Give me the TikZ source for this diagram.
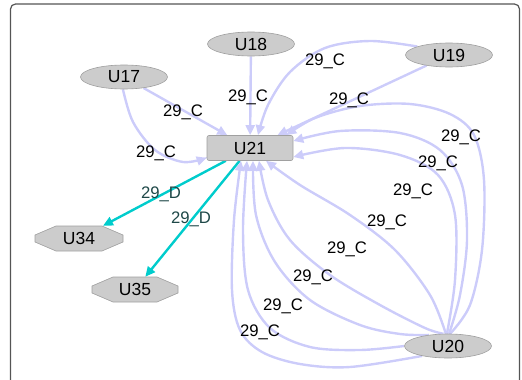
\documentclass[tikz,border=0pt]{standalone}
\usepackage{fontspec}
\setmainfont{Liberation Sans}
\usetikzlibrary{arrows.meta,shapes.geometric,calc}
\pgfdeclarelayer{edges}
\pgfsetlayers{edges,main}
\definecolor{lav}{HTML}{CCCCFA}
\definecolor{cy}{HTML}{00CCCC}
\definecolor{dteal}{HTML}{1E4848}
\definecolor{nfill}{HTML}{CCCCCC}
\definecolor{nline}{HTML}{A0A0A0}
\definecolor{framecol}{HTML}{555555}
\begin{document}
\begin{tikzpicture}[x=1pt,y=-1pt,
  nodefont/.style={font=\fontsize{17.5}{20}\selectfont},
  ell/.style={ellipse, fill=nfill, draw=nline, line width=0.6pt, minimum width=87pt, minimum height=24pt, inner sep=0pt, nodefont},
  boxnode/.style={rectangle, rounded corners=2pt, fill=nfill, draw=nline, line width=0.6pt, minimum width=86pt, minimum height=25pt, inner sep=0pt, nodefont},
  octnode/.style={rectangle, minimum width=88pt, minimum height=25pt, inner sep=0pt, nodefont},
  octshape/.style={fill=nfill, draw=nline, line width=0.6pt},
  ec/.style={draw=lav, line width=2.4pt, -{Triangle[length=10pt,width=9pt]}},
  ed/.style={draw=cy, line width=2.4pt, -{Triangle[length=10pt,width=9pt]}},
  lc/.style={font=\fontsize{16.7}{19}\selectfont, inner sep=0pt, text=black},
  ld/.style={lc, text=dteal},
  sm/.style={smooth, tension=0.55}
]
\useasboundingbox (0,0) rectangle (522,380);
\clip (0,0) rectangle (522,380);
\draw[framecol, line width=1.2pt, rounded corners=5pt] (10.5,4) rectangle (519.5,420);

% nodes
\node[ell] (U18) at (251,44) {U18};
\node[ell] (U19) at (449,55) {U19};
\node[ell] (U17) at (124,77) {U17};
\node[boxnode] (U21) at (250,148) {U21};
\node[ell] (U20) at (448,346) {U20};
\draw[octshape, shift={(79,238.5)}] (-44,-3.5) -- (-23,-12.5) -- (23,-12.5) -- (44,-3.5) -- (44,3.5) -- (23,12.5) -- (-23,12.5) -- (-44,3.5) -- cycle;
\node[octnode] (U34) at (79,238.5) {U34};
\draw[octshape, shift={(135,289.5)}] (-43,-3.5) -- (-22,-12.5) -- (22,-12.5) -- (43,-3.5) -- (43,3.5) -- (22,12.5) -- (-22,12.5) -- (-43,3.5) -- cycle;
\node[octnode, minimum width=86pt] (U35) at (135,289.5) {U35};

% end points on U21
\coordinate (t17) at ($(U21.south west)+(0,-3)$);
\coordinate (t19) at ($(U21.north)+(8,0)$);
\coordinate (t1) at ($(U21.south)+(-9,0)$);
\coordinate (t2) at ($(U21.south)+(-3,0)$);
\coordinate (t3) at ($(U21.south)+(3,0)$);
\coordinate (t4) at ($(U21.south)+(9,0)$);
\coordinate (t5) at ($(U21.south)+(16,0)$);
\coordinate (t6) at ($(U21.east)+(0,9)$);
\coordinate (t7) at ($(U21.east)+(0,-7)$);
\coordinate (t8) at ($(U21.north east)+(-7,0)$);

\begin{pgfonlayer}{edges}
\draw[ec] (U17) -- (U21);
\draw[ec] (U18) -- (U21);
\draw[ec] (U19) -- (U21);
\draw[ed] (U21) -- (U34);
\draw[ed] (U21) -- (U35);
\draw[ec] plot[sm] coordinates {(U17.265) (133,122) (155,150) (183,162) (t17)};
\draw[ec] plot[sm] coordinates {(U19.165) (370,41) (325,48) (290,72) (268,105) (t19)};
% U20 -> U21
\draw[ec] plot[sm] coordinates {(U20.201) (350,367) (300,364) (262,352) (240,330) (232,290) (234,220) (t1)};
\draw[ec] plot[sm] coordinates {(U20.180) (360,350) (310,347) (270,328) (248,290) (243,230) (t2)};
\draw[ec] plot[sm] coordinates {(U20.150) (400,334) (360,325) (310,300) (275,262) (256,215) (t3)};
\draw[ec] plot[sm] coordinates {(U20.110) (425,328) (380,305) (330,275) (290,240) (268,200) (t4)};
\draw[ec] plot[sm] coordinates {(U20.100) (430,295) (395,250) (350,215) (300,185) (t5)};
\draw[ec] plot[sm] coordinates {(U20.95) (455,280) (455,215) (438,175) (400,155) (345,148) (t6)};
\draw[ec] plot[sm] coordinates {(U20.85) (460,295) (467,240) (462,185) (440,150) (400,133) (340,131) (t7)};
\draw[ec] plot[sm] coordinates {(U20.80) (470,305) (482,250) (484,180) (474,135) (450,114) (410,104) (360,106) (315,118) (t8)};
\end{pgfonlayer}

% labels
\node[lc] (l17a) at (183,112) {29\_C};
\node[lc] (l17b) at (156,153) {29\_C};
\node[lc] (l18) at (248,97) {29\_C};
\node[lc] (l19a) at (325,61) {29\_C};
\node[lc] (l19b) at (349,100) {29\_C};
\node[lc] (l8) at (461,137) {29\_C};
\node[lc] (l7) at (438,163) {29\_C};
\node[lc] (l6) at (413,191) {29\_C};
\node[lc] (l5) at (387,222) {29\_C};
\node[lc] (l4) at (347,249) {29\_C};
\node[lc] (l3) at (313,277) {29\_C};
\node[lc] (l2) at (283,306) {29\_C};
\node[lc] (l1) at (260,332) {29\_C};
\node[ld] (d1) at (161,194) {29\_D};
\node[ld] (d2) at (191,219) {29\_D};
\end{tikzpicture}
\end{document}
